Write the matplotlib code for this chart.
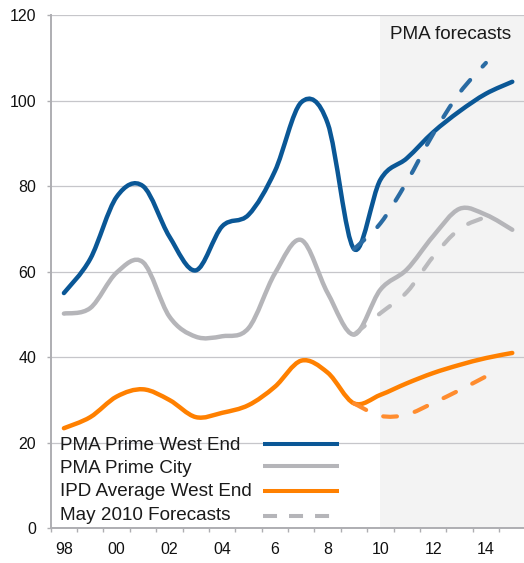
import numpy as np
import matplotlib
matplotlib.use("Agg")
import matplotlib.pyplot as plt
from matplotlib.path import Path
from matplotlib.patches import PathPatch
from matplotlib.lines import Line2D

plt.rcParams['font.family'] = ['Liberation Sans', 'DejaVu Sans']

# ---------------- data ----------------
years = list(range(1998, 2016))
west_end = [55.0, 63.0, 77.5, 80.0, 68.2, 60.3, 70.6, 73.3, 83.5, 99.6,
            94.7, 65.3, 81.5, 86.5, 92.6, 97.5, 101.6, 104.4]
city = [50.2, 51.5, 59.8, 62.2, 49.5, 44.8, 44.9, 46.8, 59.6, 67.4,
        55.0, 45.3, 55.8, 60.5, 68.3, 74.7, 73.3, 69.8]
ipd_west_end = [23.4, 26.0, 30.8, 32.5, 30.0, 26.0, 27.0, 28.8, 33.1, 39.2,
                36.4, 29.2, 31.2, 33.9, 36.3, 38.2, 39.8, 41.0]

fc_years = [2009, 2010, 2011, 2012, 2013, 2014]
fc_west_end = [65.3, 71.3, 81.0, 92.2, 101.8, 108.8]
fc_city = [45.3, 50.3, 55.2, 63.5, 70.0, 72.8]
fc_ipd = [29.2, 26.3, 26.6, 29.3, 32.3, 35.5]

forecast_start = 2010
tick_years = [1998, 2000, 2002, 2004, 2006, 2008, 2010, 2012, 2014]
tick_labels = ["98", "00", "02", "04", "6", "8", "10", "12", "14"]
y_ticks = [0, 20, 40, 60, 80, 100, 120]

legend_labels = ["PMA Prime West End", "PMA Prime City",
                 "IPD Average West End", "May 2010 Forecasts"]

BLUE = "#0a5796"
BLUE_D = "#2a6ba3"
GREY = "#b5b5b9"
GREY_D = "#bababd"
ORANGE = "#ff8000"
ORANGE_D = "#ff8c2e"


def smooth_path(xs, ys):
    """Excel-style smoothed line: cubic Bezier segments through the points."""
    p = np.column_stack([xs, ys]).astype(float)
    n = len(p)
    verts = [p[0]]
    codes = [Path.MOVETO]
    for i in range(n - 1):
        p_prev = p[i - 1] if i > 0 else p[i]
        p_next2 = p[i + 2] if i + 2 < n else p[i + 1]
        c1 = p[i] + (p[i + 1] - p_prev) / 6.0
        c2 = p[i + 1] - (p_next2 - p[i]) / 6.0
        verts += [c1, c2, p[i + 1]]
        codes += [Path.CURVE4] * 3
    return Path(verts, codes)


fig = plt.figure(figsize=(5.24, 5.63), dpi=100)
ax = fig.add_axes([0.0968, 0.0616, 0.906, 0.9117])

ax.set_xlim(1997.5, 2015.5)
ax.set_ylim(0, 120)

# forecast shading
ax.axvspan(forecast_start, 2015.5, color="#f3f3f3", zorder=0.1, lw=0)

# grid
ax.set_axisbelow(True)
ax.yaxis.grid(True, color="#c6c6ca", lw=0.9, zorder=0.5)
ax.xaxis.grid(False)

dash = (0, (3.3, 4.4))
series = [
    (years, west_end, BLUE, 3.2, "solid", 5),
    (years, city, GREY, 3.2, "solid", 4),
    (years, ipd_west_end, ORANGE, 3.2, "solid", 4),
    (fc_years, fc_west_end, BLUE_D, 3.0, dash, 6),
    (fc_years, fc_city, GREY_D, 3.0, dash, 4.5),
    (fc_years, fc_ipd, ORANGE_D, 3.0, dash, 4.5),
]
for xs, ys, col, lw, ls, z in series:
    patch = PathPatch(smooth_path(xs, ys), fill=False, edgecolor=col, lw=lw,
                      linestyle=ls, capstyle="round", joinstyle="round", zorder=z)
    ax.add_patch(patch)

# spines
for s in ["top", "right"]:
    ax.spines[s].set_visible(False)
for s in ["left", "bottom"]:
    ax.spines[s].set_color("#aeaeb2")
    ax.spines[s].set_linewidth(1.4)

# y ticks
ax.set_yticks(y_ticks)
ax.set_yticklabels([str(v) for v in y_ticks])
ax.tick_params(axis="y", which="major", length=3, width=1.0, color="#aeaeb2",
               pad=7.5, labelsize=11.5, labelcolor="#111111")

# x ticks: marks at category boundaries, labels at centres
ax.set_xticks(np.arange(1997.5, 2015.6, 1.0))
ax.set_xticklabels([])
ax.set_xticks(tick_years, minor=True)
ax.set_xticklabels(tick_labels, minor=True)
ax.tick_params(axis="x", which="major", length=3, width=1.0, color="#aeaeb2")
ax.tick_params(axis="x", which="minor", length=0, pad=9.5, labelsize=11.5,
               labelcolor="#111111")

# "PMA forecasts" label
ax.text(0.7148, 0.962, "PMA forecasts", transform=ax.transAxes, fontsize=13.6,
        ha="left", va="center", color="#1a1a1a")

# legend (text left aligned, handles to the right)
leg_text_y = [0.161, 0.117, 0.0713, 0.0259]
leg_handle_y = [0.165, 0.122, 0.0735, 0.0235]
leg_styles = [(BLUE, "solid"), (GREY, "solid"), (ORANGE, "solid"), (GREY, (0, (3.48, 2.98)))]
for lab, ty, hy, (col, ls) in zip(legend_labels, leg_text_y, leg_handle_y, leg_styles):
    ax.text(0.0196, ty, lab, transform=ax.transAxes, fontsize=13.6,
            ha="left", va="center", color="#1a1a1a", zorder=7)
    ax.add_line(Line2D([0.448, 0.607], [hy, hy], transform=ax.transAxes,
                       color=col, lw=2.9, linestyle=ls, solid_capstyle="butt",
                       dash_capstyle="butt", zorder=7))

fig.savefig("out.png", dpi=100)
